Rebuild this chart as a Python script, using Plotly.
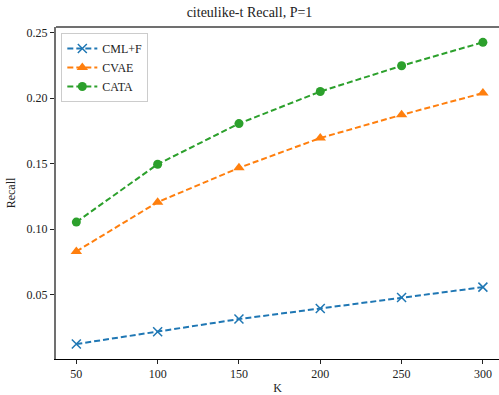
import plotly.graph_objects as go

# Recall@K on citeulike-t (P=1) for three recommenders
K = [50, 100, 150, 200, 250, 300]
recall_cmlf = [0.0121, 0.0215, 0.0312, 0.0393, 0.0477, 0.0556]
recall_cvae = [0.0829, 0.1205, 0.1467, 0.1695, 0.1872, 0.2038]
recall_cata = [0.1053, 0.1495, 0.1805, 0.2050, 0.2247, 0.2426]

series = [
    ("CML+F", recall_cmlf, "#1f77b4", dict(symbol="x-thin-open", size=9, line=dict(width=1.5, color="#1f77b4"))),
    ("CVAE", recall_cvae, "#ff7f0e", dict(symbol="triangle-up", size=10)),
    ("CATA", recall_cata, "#2ca02c", dict(symbol="circle", size=9)),
]

SERIF = "Liberation Serif, Times New Roman, serif"

fig = go.Figure()
for name, vals, color, marker in series:
    fig.add_trace(go.Scatter(
        x=K, y=vals, name=name, mode="lines+markers",
        line=dict(color=color, width=2, dash="6px,3px"),
        marker=dict(color=color, **marker),
    ))

fig.update_layout(
    width=499, height=395,
    margin=dict(l=56, r=0, t=27, b=36),
    paper_bgcolor="white", plot_bgcolor="white",
    font=dict(family=SERIF, size=11, color="#222"),
    title=dict(text="citeulike-t Recall, P=1", x=0.5, xanchor="center",
               y=1 - 12 / 395, yanchor="middle",
               font=dict(family=SERIF, size=14, color="#222")),
    showlegend=True,
    legend=dict(x=0.012, y=0.982, xanchor="left", yanchor="top",
                bordercolor="#cccccc", borderwidth=1, bgcolor="rgba(255,255,255,0.85)",
                font=dict(family=SERIF, size=12, color="#222"),
                itemwidth=30, tracegroupgap=0),
    shapes=[dict(type="line", xref="paper", yref="paper", x0=0, x1=1, y0=1, y1=1,
                 line=dict(color="#707070", width=2))],
)

fig.update_xaxes(
    range=[37.5, 309.9], tickvals=K, ticks="outside", ticklen=4, tickcolor="#222",
    showgrid=False, zeroline=False, showline=True, linecolor="black", linewidth=1,
    title=dict(text="K", font=dict(family=SERIF, size=12), standoff=4),
    tickfont=dict(family=SERIF, size=12),
)
fig.update_yaxes(
    range=[0.0007, 0.2543], tickvals=[0.05, 0.10, 0.15, 0.20, 0.25],
    ticktext=["0.05", "0.10", "0.15", "0.20", "0.25"],
    ticks="outside", ticklen=4, tickcolor="#222",
    showgrid=False, zeroline=False, showline=True, linecolor="#707070", linewidth=2,
    title=dict(text="Recall", font=dict(family=SERIF, size=12), standoff=8),
    tickfont=dict(family=SERIF, size=12),
)

fig.write_html("out.html")
